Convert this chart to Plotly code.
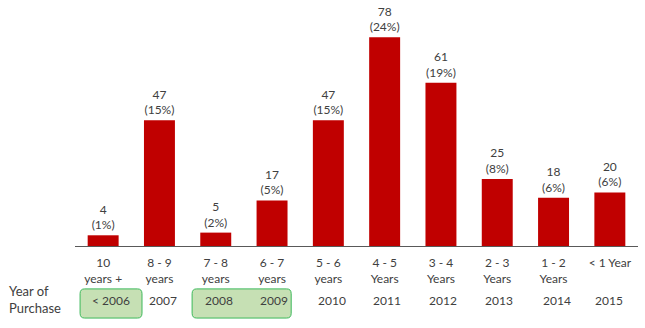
import plotly.graph_objects as go

# Ownership duration categories and counts
age_labels = ["10<br>years +", "8 - 9<br>years", "7 - 8<br>years", "6 - 7<br>years",
              "5 - 6<br>years", "4 - 5<br>Years", "3 - 4<br>Years", "2 - 3<br>Years",
              "1 - 2<br>Years", "< 1 Year"]
counts = [4, 47, 5, 17, 47, 78, 61, 25, 18, 20]
shares = [1, 15, 2, 5, 15, 24, 19, 8, 6, 6]
purchase_years = ["< 2006", "2007", "2008", "2009", "2010", "2011", "2012", "2013", "2014", "2015"]

FONT = "Lato"
TXT = "#404040"
x = list(range(len(counts)))

fig = go.Figure(go.Bar(
    x=x, y=counts, width=0.55,
    marker=dict(color="#c00000", line=dict(width=0)),
    text=[f"{c}<br>({s}%)" for c, s in zip(counts, shares)],
    textposition="outside", cliponaxis=False,
    textfont=dict(family=FONT, size=12, color=TXT),
))

# Row of purchase-year labels below the axis (nudged to sit centred in the boxes)
year_y = -0.228
year_shift = [8, 4, 3, 2, 4, 2, 2, 2, 3, -1]
for i, (yr, dx) in enumerate(zip(purchase_years, year_shift)):
    fig.add_annotation(x=i, y=year_y, xref="x", yref="paper", text=yr,
                       yanchor="middle", xshift=dx, showarrow=False,
                       font=dict(family=FONT, size=12, color=TXT))
fig.add_annotation(x=0.0, y=-0.22, xref="paper", yref="paper", xshift=-75 + 7,
                   xanchor="left", yanchor="middle", align="left",
                   text="Year of<br>Purchase",
                   showarrow=False, font=dict(family=FONT, size=13, color=TXT))


def rounded_box(x0, x1, y0, y1, rx=0.08, ry=0.02):
    return (f"M {x0+rx},{y0} L {x1-rx},{y0} Q {x1},{y0} {x1},{y0+ry} "
            f"L {x1},{y1-ry} Q {x1},{y1} {x1-rx},{y1} L {x0+rx},{y1} "
            f"Q {x0},{y1} {x0},{y1-ry} L {x0},{y0+ry} Q {x0},{y0} {x0+rx},{y0} Z")


for bx0, bx1 in [(-0.41, 0.69), (1.58, 3.34)]:
    fig.add_shape(type="path", xref="x", yref="paper",
                  path=rounded_box(bx0, bx1, -0.299, -0.178),
                  fillcolor="#c6e0b4", line=dict(color="#3cb95a", width=1), layer="below")

fig.update_layout(
    width=645, height=328,
    margin=dict(l=75, r=7, t=5, b=82),
    plot_bgcolor="white", paper_bgcolor="white",
    showlegend=False,
    bargap=0.45,
    xaxis=dict(range=[-0.5, 9.5], tickvals=x, ticktext=age_labels,
               tickfont=dict(family=FONT, size=12, color=TXT),
               ticklabelstandoff=6,
               showline=True, linecolor="#595959", linewidth=1,
               showgrid=False, zeroline=False, ticks=""),
    yaxis=dict(range=[0, 90], visible=False, showgrid=False, zeroline=False),
)

fig.write_html("out.html")
